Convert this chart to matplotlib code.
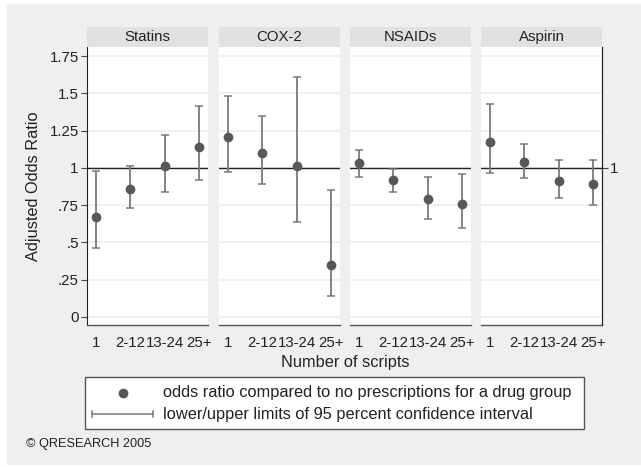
import matplotlib.pyplot as plt
from matplotlib.patches import Rectangle
from matplotlib.lines import Line2D

plt.rcParams['font.family'] = ['Liberation Sans', 'DejaVu Sans']

# Data
drugs = ['Statins', 'COX-2', 'NSAIDs', 'Aspirin']
scripts = ['1', '2-12', '13-24', '25+']
odds = {
    'Statins': [0.67, 0.86, 1.01, 1.14],
    'COX-2': [1.205, 1.10, 1.01, 0.35],
    'NSAIDs': [1.03, 0.92, 0.79, 0.76],
    'Aspirin': [1.175, 1.04, 0.915, 0.89],
}
lower = {
    'Statins': [0.46, 0.73, 0.84, 0.92],
    'COX-2': [0.97, 0.89, 0.64, 0.14],
    'NSAIDs': [0.94, 0.84, 0.66, 0.60],
    'Aspirin': [0.965, 0.93, 0.795, 0.75],
}
upper = {
    'Statins': [0.98, 1.01, 1.22, 1.415],
    'COX-2': [1.48, 1.35, 1.61, 0.855],
    'NSAIDs': [1.12, 0.995, 0.94, 0.957],
    'Aspirin': [1.43, 1.16, 1.05, 1.055],
}
yticks = [0, 0.25, 0.5, 0.75, 1, 1.25, 1.5, 1.75]
yticklabels = ['0', '.25', '.5', '.75', '1', '1.25', '1.5', '1.75']

W, H = 641, 467
fig = plt.figure(figsize=(W / 100, H / 100), dpi=100, facecolor='white')


def fbox(x0, y0, x1, y1):
    # pixel box (top-left origin) -> figure coords
    return [x0 / W, 1 - y1 / H, (x1 - x0) / W, (y1 - y0) / H]


bg = fbox(7, 4, 641, 465)
fig.patches.append(Rectangle((bg[0], bg[1]), bg[2], bg[3], transform=fig.transFigure,
                             facecolor='#efefef', edgecolor='none', zorder=-10))

lefts = [87, 219, 350, 481]
pw = 121
marker_c = '#585858'
bar_c = '#7a7a7a'

for i, drug in enumerate(drugs):
    x0 = lefts[i]
    ax = fig.add_axes(fbox(x0, 47, x0 + pw, 325))
    ax.set_facecolor('white')
    xs = list(range(1, len(scripts) + 1))
    yerr = [[o - l for o, l in zip(odds[drug], lower[drug])],
            [u - o for o, u in zip(odds[drug], upper[drug])]]
    ax.errorbar(xs, odds[drug], yerr=yerr, fmt='o', color=marker_c, ecolor=bar_c,
                elinewidth=1.3, capsize=3, capthick=1.1, markersize=6, zorder=3)
    ax.axhline(1, color='#222222', lw=1, zorder=2)
    ax.set_xlim(0.74, 4.26)
    ax.set_ylim(-0.054, 1.811)
    ax.set_yticks(yticks)
    ax.grid(axis='y', color='#eeeeee', lw=1.2, zorder=0)
    ax.set_axisbelow(True)
    ax.set_xticks(xs)
    ax.set_xticklabels(scripts, fontsize=10.8, color='#222222')
    ax.tick_params(axis='x', length=0, pad=8)
    for s in ['top', 'right', 'left']:
        ax.spines[s].set_visible(False)
    ax.spines['bottom'].set_color('#555555')
    ax.spines['bottom'].set_linewidth(1)
    if i == 0:
        ax.spines['left'].set_visible(True)
        ax.spines['left'].set_color('#222222')
        ax.set_yticklabels(yticklabels, fontsize=10.8, color='#222222')
        ax.tick_params(axis='y', length=4, width=0.8, color='#444444', pad=2)
        ax.set_ylabel('Adjusted Odds Ratio', fontsize=11.8, color='#222222', labelpad=6)
    else:
        ax.tick_params(axis='y', length=0, labelleft=False)
    if i == len(drugs) - 1:
        ax.spines['right'].set_visible(True)
        ax.spines['right'].set_color('#222222')
        ax2 = ax.twinx()
        ax2.set_ylim(ax.get_ylim())
        ax2.set_yticks([1])
        ax2.set_yticklabels(['1'], fontsize=10.8, color='#222222')
        ax2.tick_params(axis='y', length=4, width=0.8, color='#444444', pad=2)
        for s in ['top', 'left', 'bottom']:
            ax2.spines[s].set_visible(False)
        ax2.spines['right'].set_color('#222222')

    # strip header
    sb = fbox(x0, 27, x0 + pw, 47)
    fig.patches.append(Rectangle((sb[0], sb[1]), sb[2], sb[3], transform=fig.transFigure,
                                 facecolor='#e1e1e3', edgecolor='none', zorder=1))
    fig.text(sb[0] + sb[2] / 2, sb[1] + sb[3] / 2, drug, ha='center', va='center',
             fontsize=10.8, color='#222222')

fig.text(345 / W, 1 - 363 / H, 'Number of scripts', ha='center', va='center',
         fontsize=11.8, color='#222222')

# legend box
lb = fbox(85, 377, 584, 429)
fig.patches.append(Rectangle((lb[0], lb[1]), lb[2], lb[3], transform=fig.transFigure,
                             facecolor='white', edgecolor='#555555', lw=1, zorder=1))
fig.lines.append(Line2D([123 / W], [1 - 393 / H], transform=fig.transFigure, marker='o',
                        color=marker_c, markersize=6, zorder=2))
fig.lines.append(Line2D([92 / W, 153 / W], [1 - 414 / H] * 2, transform=fig.transFigure,
                        color=bar_c, lw=1.1, zorder=2))
for xc in (92, 153):
    fig.lines.append(Line2D([xc / W] * 2, [1 - 411 / H, 1 - 417 / H],
                            transform=fig.transFigure, color=bar_c, lw=1.1, zorder=2))
fig.text(163 / W, 1 - 393 / H, 'odds ratio compared to no prescriptions for a drug group',
         ha='left', va='center', fontsize=11.8, color='#222222')
fig.text(163 / W, 1 - 414 / H, 'lower/upper limits of 95 percent confidence interval',
         ha='left', va='center', fontsize=11.8, color='#222222')

fig.text(26 / W, 1 - 444 / H, '\u00a9 QRESEARCH 2005', ha='left', va='center',
         fontsize=9.2, color='#222222')

fig.savefig('out.png', dpi=100, facecolor='white')
